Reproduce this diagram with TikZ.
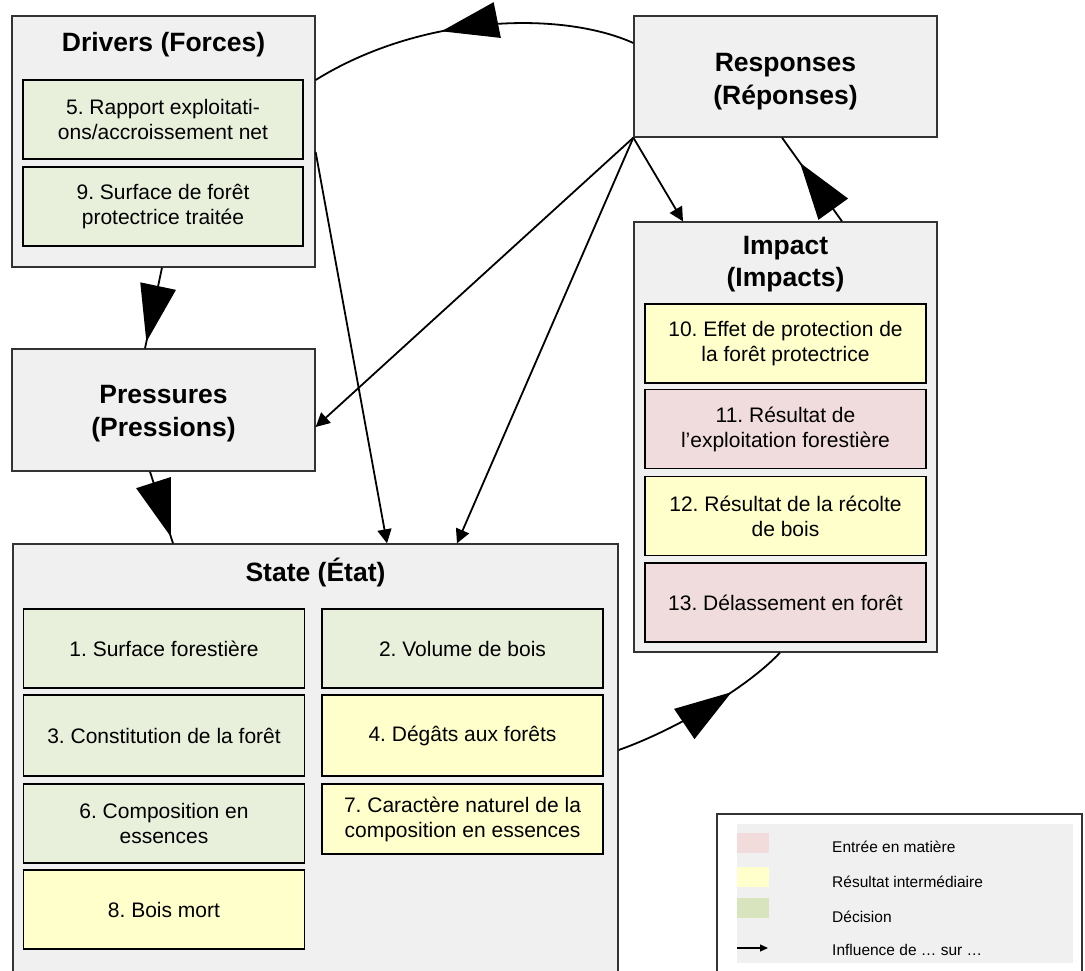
\documentclass[tikz,border=0pt]{standalone}
\usepackage{fontspec}
\setmainfont{Liberation Sans}
\frenchspacing
\usetikzlibrary{arrows.meta,decorations.markings,calc}
\definecolor{panelfill}{HTML}{F0F0F0}
\definecolor{greenfill}{HTML}{E8F0DC}
\definecolor{yellowfill}{HTML}{FFFFCC}
\definecolor{pinkfill}{HTML}{F0DCDC}
\definecolor{legpink}{HTML}{F2DCDB}
\definecolor{leggreen}{HTML}{D7E4BD}
\begin{document}
\begin{tikzpicture}[x=1pt,y=-1pt,
  panel/.style={draw=black!80, line width=1.3pt, fill=panelfill, inner sep=0pt, minimum width=303pt},
  leaf/.style={draw=black, line width=1.5pt, inner sep=0pt, minimum width=280pt, minimum height=79pt, align=center, font=\fontsize{21}{25}\selectfont},
  ttl/.style={align=center, inner sep=0pt, font=\fontsize{26.5}{32.5}\selectfont\bfseries},
  conn/.style={draw=black, line width=1.8pt},
  smallarrow/.style={-{Triangle[length=14pt,width=14pt]}},
  bigarrow/.style={postaction={decorate}, decoration={markings, mark=at position #1 with {\arrow{Triangle[length=57pt,width=36pt]}}}},
  legtext/.style={anchor=west, inner sep=0pt, font=\fontsize{15.5}{18}\selectfont},
  swatch/.style={inner sep=0pt, minimum width=32pt, minimum height=20pt}
]
\clip (0,0) rectangle (1085,970);
\fill[white] (0,0) rectangle (1085,970);

% Drivers
\node[panel, minimum height=251pt] (drivers) at (163.5,141.5) {};
\node[ttl] (driversT) at (163.5,45) {Drivers (Forces)};
\node[leaf, fill=greenfill] (i5) at (163,119.5) {5. Rapport exploitati-\\ons/accroissement net};
\node[leaf, fill=greenfill] (i9) at (163,206.5) {9. Surface de forêt\\protectrice traitée};

% Responses
\node[panel, minimum height=121pt] (resp) at (785.5,76.5) {};
\node[ttl] (respT) at (785.5,81.5) {Responses\\(Réponses)};

% Pressures
\node[panel, minimum height=122pt] (press) at (163.5,410) {};
\node[ttl] (pressT) at (163.5,413.5) {Pressures\\(Pressions)};

% Impact
\node[panel, minimum height=430pt] (impact) at (785.5,437) {};
\node[ttl] (impactT) at (785.5,264) {Impact\\(Impacts)};
\node[leaf, fill=yellowfill, minimum width=281pt] (i10) at (785.5,343.5) {10. Effet de protection de\\la forêt protectrice};
\node[leaf, fill=pinkfill, minimum width=281pt] (i11) at (785.5,429) {11. Résultat de\\l’exploitation forestière};
\node[leaf, fill=yellowfill, minimum width=281pt] (i12) at (785.5,516) {12. Résultat de la récolte\\de bois};
\node[leaf, fill=pinkfill, minimum width=281pt] (i13) at (785.5,602.5) {13. Délassement en forêt};

% State
\node[panel, minimum width=605pt, minimum height=446pt] (state) at (315.5,767) {};
\node[ttl] (stateT) at (315.5,572) {State (État)};
\node[leaf, fill=greenfill, minimum width=281pt] (i1) at (164,648.5) {1. Surface forestière};
\node[leaf, fill=greenfill, minimum width=281pt] (i2) at (462.5,648.5) {2. Volume de bois};
\node[leaf, fill=greenfill, minimum width=281pt, minimum height=81pt] (i3) at (164,735.5) {3. Constitution de la forêt};
\node[leaf, fill=yellowfill, minimum width=281pt, minimum height=81pt] (i4) at (462.5,735.5) {4. Dégâts aux forêts};
\node[leaf, fill=greenfill, minimum width=281pt] (i6) at (164,823.5) {6. Composition en\\essences};
\node[leaf, fill=yellowfill, minimum width=281pt, minimum height=70pt] (i7) at (462.5,819) {7. Caractère naturel de la\\composition en essences};
\node[leaf, fill=yellowfill, minimum width=281pt] (i8) at (164,909.5) {8. Bois mort};

% Connectors
\draw[conn, bigarrow=0.59] ([yshift=33.5pt]resp.west) .. controls (560,10) and (420,15) .. ([yshift=61.5pt]drivers.east);
\draw[conn, bigarrow=0.7] ([xshift=56.5pt]impact.north) -- ([xshift=-3.5pt]resp.south);
\draw[conn, smallarrow] (resp.south west) -- ([xshift=-102.5pt]impact.north);
\draw[conn, smallarrow] (resp.south west) -- ([yshift=-17pt]press.east);
\draw[conn, smallarrow] (resp.south west) -- ([xshift=141.5pt]state.north);
\draw[conn, smallarrow] ([yshift=-10.5pt]drivers.east) -- ([xshift=71.5pt]state.north);
\draw[conn, bigarrow=0.92] ([xshift=-1.5pt]drivers.south) -- ([xshift=-18.5pt]press.north);
\draw[conn, bigarrow=0.91] ([xshift=-13.5pt]press.south) -- ([xshift=-142.5pt]state.north);
\draw[conn, bigarrow=0.67] ([yshift=17pt]state.east) .. controls (670,732) and (745,690) .. ([xshift=-5.5pt]impact.south);

% Legend
\node[draw=black!80, line width=1.3pt, fill=white, inner sep=0pt, minimum width=365pt, minimum height=170pt] (legend) at (899.5,899) {};
\node[fill=panelfill, inner sep=0pt, minimum width=336pt, minimum height=139pt] (legbg) at (905,893.5) {};
\node[swatch, fill=legpink] (swp) at (753,843) {};
\node[swatch, fill=yellowfill] (swy) at (753,877) {};
\node[swatch, fill=leggreen] (swg) at (753,908) {};
\coordinate (la) at (737,948);
\coordinate (lb) at (768,948);
\draw[line width=1.2pt, -{Triangle[length=8pt,width=7pt]}] (la) -- (lb);
\node[legtext] (lt1) at (832,847) {Entrée en matière};
\node[legtext] (lt2) at (832,882) {Résultat intermédiaire};
\node[legtext] (lt3) at (832,917) {Décision};
\node[legtext] (lt4) at (832,950) {Influence de … sur …};
\end{tikzpicture}
\end{document}
